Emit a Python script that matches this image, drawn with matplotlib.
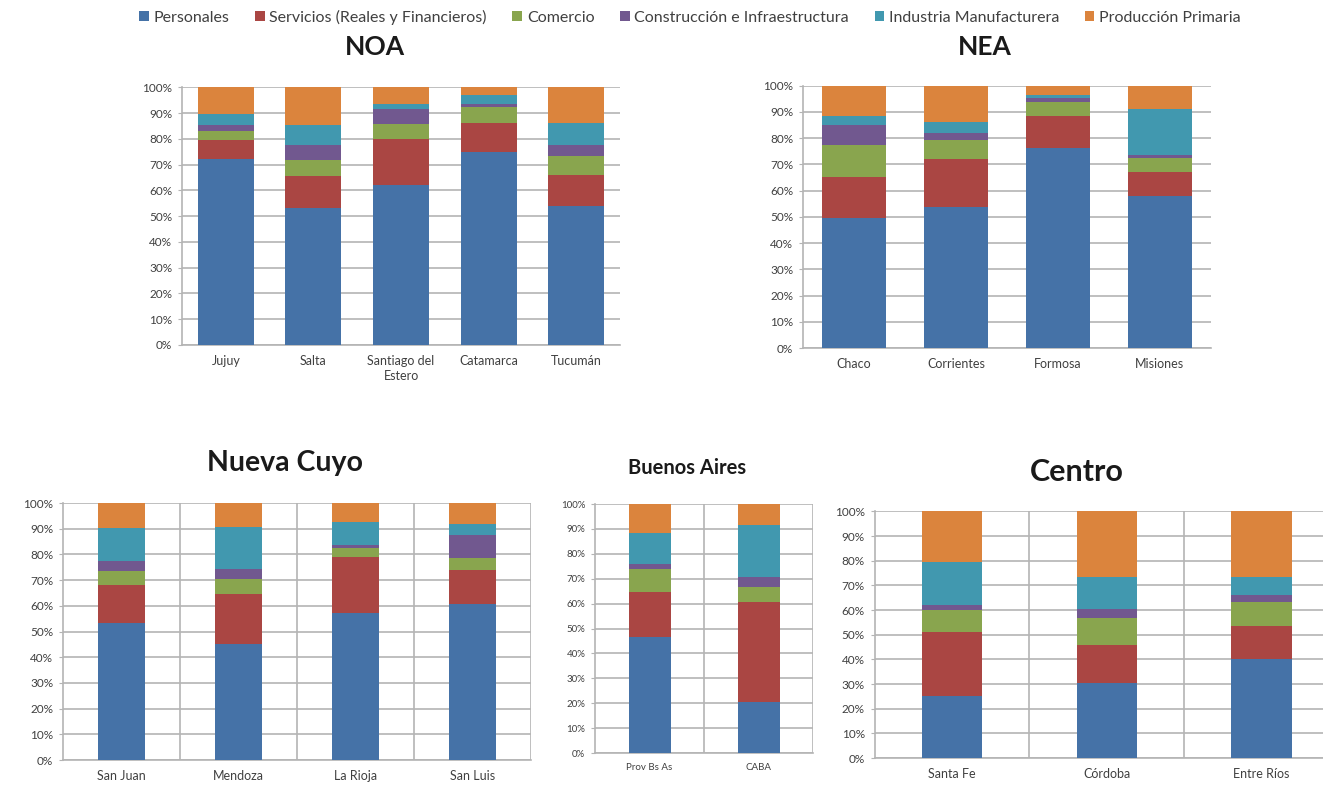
import matplotlib
matplotlib.use("Agg")
import matplotlib.pyplot as plt
from matplotlib.patches import Patch
import numpy as np

plt.rcParams["font.family"] = ["Lato", "DejaVu Sans"]

sectores = ["Personales", "Servicios (Reales y Financieros)", "Comercio",
            "Construcción e Infraestructura", "Industria Manufacturera",
            "Producción Primaria"]
colores = ["#4572A7", "#AA4643", "#89A54E", "#71588F", "#4198AF", "#DB843D"]

# participación (%) de cada sector, en el orden de `sectores`
noa_prov = ["Jujuy", "Salta", "Santiago del\nEstero", "Catamarca", "Tucumán"]
noa_vals = [
    [72.0, 53.2, 62.2, 74.8, 53.8],
    [7.4, 12.3, 17.8, 11.4, 12.0],
    [3.8, 6.1, 5.8, 6.3, 7.7],
    [2.0, 6.1, 5.8, 1.0, 4.2],
    [4.5, 7.5, 1.7, 3.3, 8.4],
    [10.3, 14.8, 6.7, 3.2, 13.9],
]

nea_prov = ["Chaco", "Corrientes", "Formosa", "Misiones"]
nea_vals = [
    [49.6, 53.6, 76.2, 57.8],
    [15.5, 18.6, 12.4, 9.2],
    [12.4, 7.2, 5.0, 5.4],
    [7.6, 2.6, 1.7, 1.3],
    [3.2, 4.0, 1.3, 17.5],
    [11.7, 14.0, 3.4, 8.8],
]

cuyo_prov = ["San Juan", "Mendoza", "La Rioja", "San Luis"]
cuyo_vals = [
    [53.4, 45.1, 57.3, 60.6],
    [14.6, 19.7, 21.7, 13.2],
    [5.4, 5.8, 3.6, 4.8],
    [4.1, 3.8, 0.9, 8.8],
    [12.8, 16.3, 9.1, 4.3],
    [9.7, 9.3, 7.4, 8.3],
]

bsas_prov = ["Prov Bs As", "CABA"]
bsas_vals = [
    [46.4, 20.5],
    [18.3, 40.2],
    [9.2, 5.8],
    [2.2, 4.3],
    [12.1, 20.6],
    [11.8, 8.6],
]

centro_prov = ["Santa Fe", "Córdoba", "Entre Ríos"]
centro_vals = [
    [25.2, 30.6, 40.0],
    [25.7, 15.4, 13.6],
    [9.3, 10.8, 9.7],
    [1.7, 3.8, 2.9],
    [17.5, 12.8, 7.4],
    [20.6, 26.6, 26.4],
]

GRID = "#B4B4B4"
TXT = "#404040"


def barras(ax, provincias, valores, ancho, vgrid, fs_y=8.5, fs_x=9):
    x = np.arange(len(provincias))
    base = np.zeros(len(provincias))
    for serie, col in zip(valores, colores):
        serie = np.array(serie)
        ax.bar(x, serie, ancho, bottom=base, color=col, zorder=3)
        base += serie
    ax.set_xlim(-0.5, len(provincias) - 0.5)
    ax.set_ylim(0, 100)
    ax.set_yticks(range(0, 101, 10))
    ax.set_yticklabels([f"{v}%" for v in range(0, 101, 10)], fontsize=fs_y,
                       color=TXT)
    ax.set_xticks(x)
    ax.set_xticklabels(provincias, fontsize=fs_x, color=TXT, linespacing=1.3)
    ax.grid(axis="y", color=GRID, lw=1.2, zorder=0)
    if vgrid:
        for b in np.arange(0.5, len(provincias), 1.0):
            ax.axvline(b, color=GRID, lw=1.2, zorder=0)
    for s in ["top", "right"]:
        ax.spines[s].set_visible(False)
    for s in ["left", "bottom"]:
        ax.spines[s].set_color(GRID)
        ax.spines[s].set_linewidth(1.2)
    ax.tick_params(axis="y", length=3, color=GRID, pad=4)
    ax.tick_params(axis="x", length=0, pad=7)


fig = plt.figure(figsize=(13.23, 7.93), dpi=100)

ax1 = fig.add_axes([0.1376, 0.565, 0.331, 0.325])
barras(ax1, noa_prov, noa_vals, 0.64, False)
ax2 = fig.add_axes([0.607, 0.561, 0.308, 0.331])
barras(ax2, nea_prov, nea_vals, 0.63, False)
ax3 = fig.add_axes([0.0476, 0.0416, 0.354, 0.324])
barras(ax3, cuyo_prov, cuyo_vals, 0.40, True)
ax4 = fig.add_axes([0.4497, 0.0504, 0.165, 0.314])
barras(ax4, bsas_prov, bsas_vals, 0.385, True, fs_y=7, fs_x=7)
ax5 = fig.add_axes([0.661, 0.0441, 0.351, 0.311])
barras(ax5, centro_prov, centro_vals, 0.39, True)

fig.text(375 / 1323, 1 - 47 / 793, "NOA", fontsize=19, fontweight="bold",
         ha="center", va="center", color="#1a1a1a")
fig.text(985 / 1323, 1 - 47 / 793, "NEA", fontsize=19, fontweight="bold",
         ha="center", va="center", color="#1a1a1a")
fig.text(285 / 1323, 1 - 463 / 793, "Nueva Cuyo", fontsize=20.5,
         fontweight="bold", ha="center", va="center", color="#1a1a1a")
fig.text(687 / 1323, 1 - 468 / 793, "Buenos Aires", fontsize=14.5,
         fontweight="bold", ha="center", va="center", color="#1a1a1a")
fig.text(1077 / 1323, 1 - 472 / 793, "Centro", fontsize=22,
         fontweight="bold", ha="center", va="center", color="#1a1a1a")

handles = [Patch(facecolor=c, label=s) for s, c in zip(sectores, colores)]
fig.legend(handles=handles, loc="center", bbox_to_anchor=(690 / 1323, 1 - 17 / 793),
           ncol=6, frameon=False, fontsize=11.5, handlelength=0.6,
           handleheight=0.6, handletextpad=0.3, columnspacing=1.6,
           labelcolor=TXT)

fig.savefig("out.png", dpi=100)
